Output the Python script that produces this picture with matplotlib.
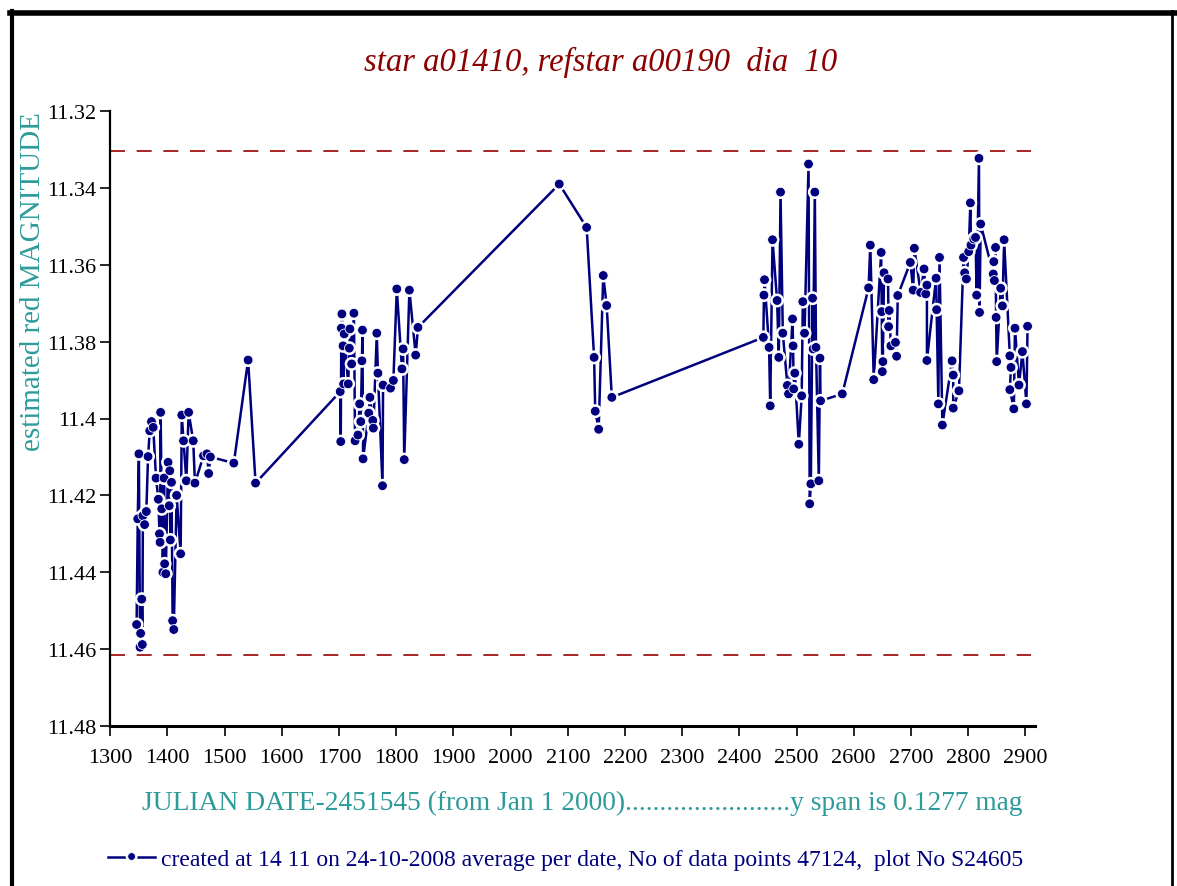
import matplotlib
matplotlib.use("Agg")
import matplotlib.pyplot as plt
import matplotlib.patheffects as pe
from matplotlib.lines import Line2D

# julian date - 2451545 and estimated red magnitude, one list per season
jd_s1 = [1346, 1348, 1350, 1352, 1353, 1355, 1356, 1357, 1360, 1363, 1366, 1369, 1372, 1375,
         1380, 1384, 1386, 1387, 1388, 1390, 1392, 1394, 1395, 1397, 1401, 1403, 1404, 1405,
         1407, 1409, 1411, 1416, 1423, 1425, 1428, 1433, 1437, 1445, 1448, 1463, 1469, 1472,
         1475, 1516, 1541, 1554]
mag_s1 = [11.4536, 11.4261, 11.4092, 11.4595, 11.4559, 11.4470, 11.4588, 11.4253, 11.4276,
          11.4242, 11.4099, 11.4032, 11.4008, 11.4023, 11.4155, 11.4210, 11.4300, 11.4322,
          11.3984, 11.4235, 11.4400, 11.4155, 11.4378, 11.4404, 11.4114, 11.4227, 11.4136,
          11.4316, 11.4166, 11.4526, 11.4549, 11.4200, 11.4352, 11.3991, 11.4058, 11.4162,
          11.3984, 11.4058, 11.4168, 11.4097, 11.4092, 11.4143, 11.4100, 11.4116, 11.3848,
          11.4168]

jd_s2 = [1702, 1703, 1704, 1705, 1707, 1708, 1709, 1716, 1718, 1719, 1722, 1726, 1728, 1733,
         1736, 1738, 1740, 1741, 1742, 1752, 1754, 1759, 1760, 1766, 1768, 1776, 1777, 1790,
         1795, 1801, 1810, 1812, 1814, 1823, 1834, 1838]
mag_s2 = [11.3930, 11.4060, 11.3765, 11.3728, 11.3811, 11.3910, 11.3780, 11.3910, 11.3817,
          11.3767, 11.3858, 11.3726, 11.4058, 11.4043, 11.3962, 11.4008, 11.3850, 11.3770,
          11.4105, 11.3986, 11.3945, 11.4005, 11.4025, 11.3778, 11.3882, 11.4175, 11.3913,
          11.3921, 11.3901, 11.3663, 11.3871, 11.3819, 11.4107, 11.3666, 11.3835, 11.3763]

jd_s3 = [2085, 2133, 2146, 2148, 2154, 2162, 2168, 2177]
mag_s3 = [11.3390, 11.3503, 11.3841, 11.3981, 11.4028, 11.3628, 11.3706, 11.3945]

jd_s4 = [2442, 2443, 2444, 2452, 2454, 2458, 2466, 2469, 2472, 2476, 2484, 2486, 2493, 2494,
         2495, 2497, 2504, 2509, 2511, 2514, 2521, 2523, 2525, 2528, 2529, 2532, 2534, 2539,
         2541, 2542, 2580]
mag_s4 = [11.3789, 11.3679, 11.3639, 11.3815, 11.3967, 11.3535, 11.3693, 11.3841, 11.3411,
          11.3778, 11.3914, 11.3936, 11.3741, 11.3811, 11.3923, 11.3882, 11.4067, 11.3941,
          11.3696, 11.3778, 11.3338, 11.4222, 11.4170, 11.3687, 11.3819, 11.3411, 11.3815,
          11.4162, 11.3843, 11.3954, 11.3936]

jd_s5 = [2626, 2629, 2635, 2648, 2649, 2650, 2651, 2653, 2660, 2661, 2662, 2665, 2673, 2675,
         2677, 2699, 2704, 2706, 2717, 2723, 2726, 2728, 2728, 2744, 2745, 2748, 2750, 2755,
         2772, 2774, 2774, 2784, 2792, 2794, 2797, 2801, 2804, 2805, 2810, 2813, 2815, 2819,
         2820, 2822, 2844, 2845, 2846, 2848, 2849, 2850, 2857, 2860, 2863, 2873, 2875, 2873,
         2880, 2882, 2889, 2895, 2902, 2904]
mag_s5 = [11.3660, 11.3549, 11.3899, 11.3568, 11.3722, 11.3878, 11.3852, 11.3621, 11.3637,
          11.3761, 11.3719, 11.3811, 11.3802, 11.3838, 11.3680, 11.3594, 11.3666, 11.3557,
          11.3672, 11.3611, 11.3676, 11.3653, 11.3849, 11.3635, 11.3717, 11.3962, 11.3581,
          11.4017, 11.3850, 11.3887, 11.3973, 11.3928, 11.3581, 11.3621, 11.3637, 11.3566,
          11.3439, 11.3549, 11.3533, 11.3529, 11.3679, 11.3323, 11.3724, 11.3494, 11.3624,
          11.3592, 11.3641, 11.3555, 11.3737, 11.3852, 11.3661, 11.3707, 11.3535, 11.3837,
          11.3867, 11.3925, 11.3975, 11.3765, 11.3913, 11.3826, 11.3962, 11.3760]

jd = jd_s1 + jd_s2 + jd_s3 + jd_s4 + jd_s5
mag = mag_s1 + mag_s2 + mag_s3 + mag_s4 + mag_s5

limit_lines = [11.3305, 11.4615]
x_ticks = list(range(1300, 3000, 100))
y_ticks = [11.32, 11.34, 11.36, 11.38, 11.40, 11.42, 11.44, 11.46, 11.48]
y_tick_labels = ["11.32", "11.34", "11.36", "11.38", "11.4", "11.42", "11.44", "11.46", "11.48"]

navy = "#00007f"
teal = "#2e9b9b"
darkred = "#8b0000"

plt.rcParams["font.family"] = ["Liberation Serif", "DejaVu Serif"]

fig = plt.figure(figsize=(11.77, 8.87), dpi=100)
ax = fig.add_axes([110.3 / 1177, 1 - 727 / 887, (1035 - 110.3) / 1177, (727 - 112) / 887])

# dashed limit lines
for lv in limit_lines:
    ax.plot([1300, 2910], [lv, lv], color="#990000", lw=1.2, dashes=(9, 7))

line, = ax.plot(jd, mag, color=navy, lw=1.8, marker="o", ms=7,
                mfc=navy, mec="white", mew=0.6,
                path_effects=[pe.Stroke(linewidth=3.0, foreground="white"), pe.Normal()])

ax.set_xlim(1300, 2917)
ax.set_ylim(11.48, 11.32)
ax.set_xticks(x_ticks)
ax.set_yticks(y_ticks)
ax.set_yticklabels(y_tick_labels)
ax.tick_params(axis="both", direction="out", length=7, width=1.2, labelsize=16, pad=3)
ax.tick_params(axis="x", pad=9)
for s in ["top", "right"]:
    ax.spines[s].set_visible(False)
ax.spines["left"].set_linewidth(1.6)
ax.spines["bottom"].set_linewidth(2.2)

fig.text(601 / 1177, 1 - 62 / 887, "star a01410, refstar a00190  dia  10", color=darkred,
         fontsize=23.5, style="italic", ha="center", va="center")
fig.text(33 / 1177, 1 - 282 / 887, "estimated red MAGNITUDE", color=teal, fontsize=21,
         rotation=90, ha="center", va="center")
fig.text(582 / 1177, 1 - 803 / 887,
         "JULIAN DATE-2451545 (from Jan 1 2000)........................y span is 0.1277 mag",
         color=teal, fontsize=19.8, ha="center", va="center")

leg = fig.legend([line], ["created at 14 11 on 24-10-2008 average per date, No of data points 47124,  plot No S24605"],
                 loc="center left", bbox_to_anchor=(108 / 1177, 1 - 860 / 887), frameon=False,
                 fontsize=17, handlelength=2.0, handletextpad=0.25, borderpad=0, borderaxespad=0,
                 markerscale=0.8)
for t in leg.get_texts():
    t.set_color(navy)

# outer frame
fig.add_artist(Line2D([10 / 1177, 1], [1 - 14 / 887, 1 - 14 / 887], color="black", lw=4,
                      transform=fig.transFigure))
fig.add_artist(Line2D([12 / 1177, 12 / 1177], [0, 1 - 12 / 887], color="black", lw=3,
                      transform=fig.transFigure))
fig.add_artist(Line2D([1172 / 1177, 1172 / 1177], [0, 1 - 12 / 887], color="black", lw=2,
                      transform=fig.transFigure))

fig.savefig("out.png", dpi=100, facecolor="white")
